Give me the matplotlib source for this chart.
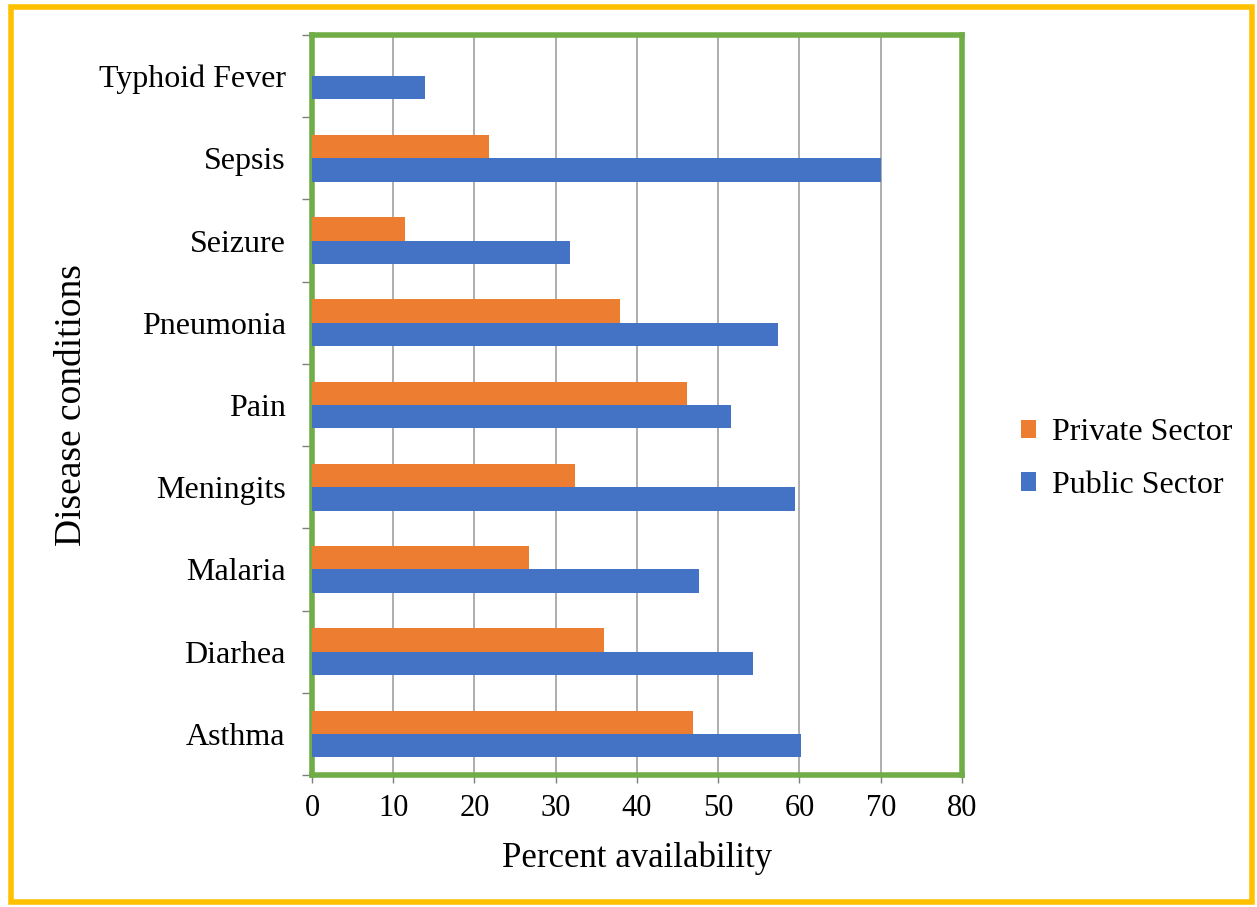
import matplotlib
matplotlib.use("Agg")
import matplotlib.pyplot as plt
import matplotlib.patches as mpatches
import numpy as np

# data (bottom to top)
conditions = ['Asthma', 'Diarhea', 'Malaria', 'Meningits', 'Pain',
              'Pneumonia', 'Seizure', 'Sepsis', 'Typhoid Fever']
public_sector = [60.2, 54.3, 47.6, 59.4, 51.6, 57.3, 31.8, 70.0, 13.9]
private_sector = [46.9, 35.9, 26.7, 32.4, 46.2, 37.9, 11.5, 21.8, 0]

plt.rcParams['font.family'] = ['Liberation Serif', 'DejaVu Serif']

fig = plt.figure(figsize=(12.57, 9.07), dpi=100)
ax = fig.add_axes([0.2482, 0.1455, 0.5171, 0.8159])

y = np.arange(len(conditions))
h = 0.284
ax.barh(y - h / 2, public_sector, height=h, color='#4472C4', label='Public Sector',
        linewidth=0, zorder=3)
ax.barh(y + h / 2, private_sector, height=h, color='#ED7D31', label='Private Sector',
        linewidth=0, zorder=3)

ax.set_xlim(0, 80)
ax.set_ylim(-0.5, len(conditions) - 0.5)
ax.set_xticks(np.arange(0, 81, 10))
ax.set_yticks(y)
ax.set_yticklabels(conditions)
ax.set_yticks(np.arange(-0.5, len(conditions), 1), minor=True)
ax.tick_params(axis='y', which='major', length=0, pad=19, labelsize=23)
ax.tick_params(axis='y', which='minor', length=7, color='#7f7f7f', width=1)
ax.tick_params(axis='x', length=6, color='#7f7f7f', width=1, pad=8, labelsize=22)

ax.grid(axis='x', color='#a0a0a0', linewidth=1.2, zorder=0)
for s in ax.spines.values():
    s.set_color('#70AD47')
    s.set_linewidth(4)

ax.set_xlabel('Percent availability', fontsize=25, labelpad=13)
ax.set_ylabel('Disease conditions', fontsize=27, labelpad=7)

handles, labels = ax.get_legend_handles_labels()
leg = fig.legend(handles[::-1], labels[::-1], loc='center left',
                 bbox_to_anchor=(0.789, 0.494), frameon=False, fontsize=23,
                 handlelength=0.5, handleheight=0.5, handletextpad=0.47,
                 labelspacing=0.75)

# outer gold border
fig.patches.append(mpatches.Rectangle((0.0085, 0.006), 0.9875, 0.986,
                                      transform=fig.transFigure, fill=False,
                                      edgecolor='#FFC000', linewidth=4))

fig.savefig('out.png', dpi=100, facecolor='white')
